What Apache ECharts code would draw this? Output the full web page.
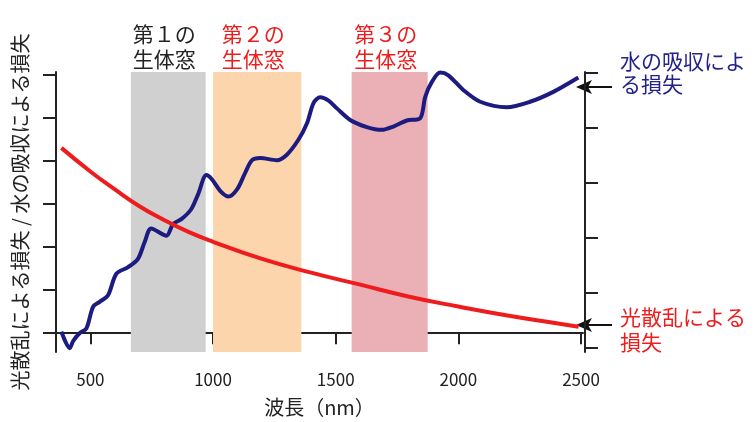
<!DOCTYPE html>
<html lang="ja">
<head>
<meta charset="UTF-8">
<title>生体窓</title>
<script src="https://cdn.jsdelivr.net/npm/echarts@6.0.0/dist/echarts.min.js"></script>
<style>
  html, body { margin: 0; padding: 0; background: #fff; }
  #chart { width: 754px; height: 422px; }
</style>
</head>
<body>
<div id="chart"></div>
<script>
// 水の吸収による損失（右軸、任意単位）
var waterWave = [382, 416, 430, 456, 484, 511, 538, 572, 606, 654, 694, 721, 748, 810, 837, 871, 911, 939, 973, 996,
    1030, 1063, 1098, 1131, 1159, 1192, 1260, 1301, 1348, 1383, 1410, 1437, 1471, 1505, 1559, 1627, 1688, 1735, 1790,
    1844, 1865, 1892, 1926, 1959, 2021, 2089, 2197, 2292, 2387, 2489];
var waterLoss = [0.30, 0.00, 0.13, 0.27, 0.36, 0.75, 0.84, 0.96, 1.35, 1.47, 1.62, 1.92, 2.17, 2.04, 2.25, 2.34, 2.52, 2.79, 3.14, 3.06,
    2.85, 2.75, 2.88, 3.18, 3.41, 3.45, 3.41, 3.51, 3.78, 4.08, 4.45, 4.55, 4.49, 4.35, 4.14, 4.01, 3.96, 4.02, 4.13,
    4.17, 4.56, 4.83, 5.00, 4.95, 4.68, 4.47, 4.37, 4.47, 4.65, 4.91];

// 光散乱による損失（左軸、任意単位）
var scatWave = [382, 500, 600, 700, 800, 900, 1000, 1200, 1400, 1600, 1800, 2000, 2200, 2400, 2490];
var scatLoss = [4.30, 3.75, 3.33, 2.94, 2.62, 2.34, 2.11, 1.71, 1.39, 1.11, 0.83, 0.60, 0.39, 0.21, 0.13];

// 生体窓
var windowNames = ['第１の\n生体窓', '第２の\n生体窓', '第３の\n生体窓'];
var windowRanges = [[665, 970], [1000, 1360], [1565, 1875]];
var windowColors = ['#d0d0d0', '#fdd5ad', '#ebb0b5'];
var windowTextColors = ['#222222', '#ee1c1c', '#ee1c1c'];

var xTicks = [500, 1000, 1500, 2000, 2500];
var leftTicks = [0, 1, 2, 3, 4, 5, 6];
var rightTicks = [0, 1, 2, 3, 4, 5];

var FONT = '"Noto Sans CJK JP", "Noto Sans", sans-serif';
var RED = '#ee1c1c';
var NAVY = '#1c1c80';

function pairs(xs, ys) {
    return xs.map(function (x, i) { return [x, ys[i]]; });
}

var chart = echarts.init(document.getElementById('chart'));

var areas = windowRanges.map(function (r, i) {
    return [
        {
            xAxis: r[0],
            itemStyle: {color: windowColors[i]},
            label: {
                show: true,
                position: 'top',
                distance: 0,
                offset: [-4, 0],
                formatter: windowNames[i],
                color: windowTextColors[i],
                fontSize: 21,
                lineHeight: 25,
                fontFamily: FONT,
                align: 'center'
            }
        },
        {xAxis: r[1]}
    ];
});

function arrow(y) {
    return [
        {
            type: 'line',
            shape: {x1: 588, y1: y, x2: 612, y2: y},
            style: {stroke: '#111', lineWidth: 2}
        },
        {
            type: 'polygon',
            shape: {points: [[576, y], [592, y - 7], [588, y], [592, y + 7]]},
            style: {fill: '#111'}
        }
    ];
}

chart.setOption({
    animation: false,
    textStyle: {fontFamily: FONT},
    grid: {left: 56, right: 171, top: 72, bottom: 68},
    xAxis: {
        type: 'value',
        min: 360,
        max: 2508,
        name: '波長（nm）',
        nameLocation: 'middle',
        nameGap: 45,
        nameTextStyle: {fontSize: 20, color: '#222', fontFamily: FONT},
        axisLine: {lineStyle: {color: '#222', width: 2}},
        axisTick: {customValues: xTicks, length: 12, lineStyle: {color: '#222', width: 2}},
        axisLabel: {
            customValues: xTicks,
            formatter: function (v) { return String(v); },
            fontSize: 17,
            color: '#222',
            margin: 19,
            fontFamily: FONT
        },
        splitLine: {show: false}
    },
    yAxis: [
        {
            type: 'value',
            position: 'left',
            min: -0.46,
            max: 6.07,
            name: '光散乱による損失 / 水の吸収による損失',
            nameLocation: 'middle',
            nameGap: 26,
            nameTextStyle: {fontSize: 20, color: '#222', fontFamily: FONT},
            axisLine: {show: true, lineStyle: {color: '#222', width: 2}},
            axisTick: {customValues: leftTicks, length: 13, lineStyle: {color: '#222', width: 2}},
            axisLabel: {show: false},
            splitLine: {show: false}
        },
        {
            type: 'value',
            position: 'right',
            offset: 2,
            min: -0.07,
            max: 5.01,
            axisLine: {show: true, lineStyle: {color: '#222', width: 2}},
            axisTick: {customValues: rightTicks, length: 13, lineStyle: {color: '#222', width: 2}},
            axisLabel: {show: false},
            splitLine: {show: false}
        }
    ],
    series: [
        {
            name: '水の吸収による損失',
            type: 'line',
            yAxisIndex: 1,
            data: pairs(waterWave, waterLoss),
            smooth: 0.3,
            showSymbol: false,
            lineStyle: {color: NAVY, width: 4}
        },
        {
            name: '光散乱による損失',
            type: 'line',
            yAxisIndex: 0,
            data: pairs(scatWave, scatLoss),
            smooth: true,
            showSymbol: false,
            lineStyle: {color: RED, width: 4},
            markArea: {silent: true, data: areas}
        }
    ],
    graphic: [
        {
            type: 'text',
            left: 620,
            top: 50,
            style: {text: '水の吸収によ\nる損失', fill: '#22228a', fontSize: 21, lineHeight: 23, fontFamily: FONT}
        },
        {
            type: 'text',
            left: 620,
            top: 305,
            style: {text: '光散乱による\n損失', fill: RED, fontSize: 21, lineHeight: 25, fontFamily: FONT}
        }
    ].concat(arrow(87), arrow(325))
});
</script>
</body>
</html>
